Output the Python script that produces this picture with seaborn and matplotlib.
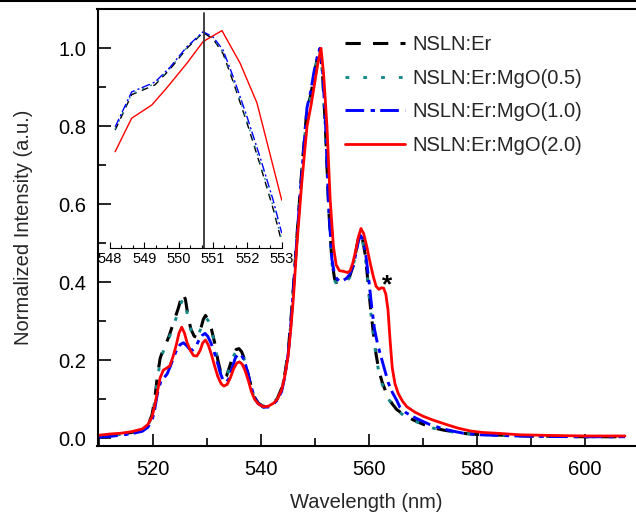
import numpy as np
import pandas as pd
import matplotlib
matplotlib.use("Agg")
import matplotlib.pyplot as plt
import seaborn as sns
from matplotlib.ticker import MultipleLocator, AutoMinorLocator
from matplotlib.lines import Line2D

# ---------------- data ----------------
labels = ["NSLN:Er", "NSLN:Er:MgO(0.5)", "NSLN:Er:MgO(1.0)", "NSLN:Er:MgO(2.0)"]

wl_er = [510, 512, 514, 516, 518, 519, 519.8, 520.3, 520.8, 521.3, 521.8, 522.3, 522.9, 523.5,
         524.1, 524.7, 525.2, 525.6, 526.0, 526.5, 527.0, 527.6, 528.2, 528.8, 529.3, 529.7,
         530.2, 530.8, 531.4, 532.0, 532.6, 533.1, 533.6, 534.2, 534.8, 535.4, 535.9, 536.4,
         537.0, 537.6, 538.2, 538.8, 539.5, 540.4, 541.3, 542.3, 543.0, 543.8, 544.4, 545.0,
         545.5, 546.0, 546.8, 547.6, 548.5, 549.2, 549.8, 550.4, 550.9, 551.4, 551.9, 552.5,
         553.1, 553.6, 554.0, 554.5, 555.2, 555.8, 556.4, 557.0, 557.5, 558.0, 558.4, 558.8,
         559.3, 559.8, 560.3, 560.8, 561.3, 561.8, 562.4, 563.3, 564.2, 565.1, 566.5, 568.2,
         570.0, 571.9, 573.8, 575.6, 578.0, 580.0, 585.0, 590.0, 600.0, 607.4]
int_er = [0.006, 0.008, 0.011, 0.015, 0.022, 0.032, 0.060, 0.100, 0.160, 0.205, 0.225, 0.240,
          0.260, 0.285, 0.310, 0.335, 0.360, 0.372, 0.355, 0.310, 0.280, 0.262, 0.258, 0.280,
          0.305, 0.315, 0.305, 0.280, 0.245, 0.200, 0.165, 0.153, 0.160, 0.185, 0.212, 0.228,
          0.230, 0.222, 0.200, 0.165, 0.130, 0.105, 0.090, 0.082, 0.082, 0.090, 0.102, 0.128,
          0.165, 0.220, 0.300, 0.390, 0.550, 0.700, 0.845, 0.880, 0.930, 0.975, 1.000, 0.930,
          0.800, 0.594, 0.457, 0.410, 0.400, 0.405, 0.410, 0.405, 0.415, 0.440, 0.475, 0.510,
          0.526, 0.510, 0.470, 0.400, 0.330, 0.270, 0.215, 0.175, 0.145, 0.112, 0.090, 0.074,
          0.060, 0.047, 0.036, 0.027, 0.021, 0.017, 0.012, 0.010, 0.008, 0.006, 0.004, 0.004]

wl_mg05 = list(wl_er)
int_mg05 = [0.005, 0.007, 0.010, 0.014, 0.021, 0.031, 0.057, 0.095, 0.150, 0.198, 0.220, 0.235,
            0.255, 0.278, 0.302, 0.325, 0.348, 0.358, 0.345, 0.305, 0.278, 0.262, 0.260, 0.280,
            0.302, 0.310, 0.302, 0.278, 0.243, 0.198, 0.163, 0.151, 0.158, 0.182, 0.208, 0.224,
            0.227, 0.220, 0.198, 0.163, 0.128, 0.103, 0.088, 0.080, 0.080, 0.088, 0.100, 0.125,
            0.162, 0.216, 0.295, 0.385, 0.545, 0.695, 0.840, 0.875, 0.928, 0.972, 0.998, 0.928,
            0.795, 0.590, 0.450, 0.405, 0.395, 0.398, 0.405, 0.402, 0.412, 0.438, 0.472, 0.506,
            0.520, 0.505, 0.465, 0.395, 0.325, 0.265, 0.210, 0.170, 0.140, 0.108, 0.087, 0.072,
            0.058, 0.046, 0.035, 0.026, 0.020, 0.016, 0.012, 0.010, 0.008, 0.006, 0.004, 0.004]

wl_mg10 = [510, 512, 514, 516, 518, 519, 519.8, 520.3, 520.8, 521.4, 522.0, 522.6, 523.2, 523.8,
           524.4, 525.0, 525.6, 526.2, 526.8, 527.3, 527.9, 528.5, 529.1, 529.6, 530.1, 530.7,
           531.3, 531.9, 532.5, 533.0, 533.5, 534.0, 534.6, 535.2, 535.8, 536.3, 536.9, 537.5,
           538.1, 538.7, 539.4, 540.4, 541.3, 542.3, 543.0, 543.8, 544.4, 545.0, 545.5, 546.0,
           546.8, 547.6, 548.5, 549.2, 549.8, 550.4, 550.9, 551.4, 551.9, 552.5, 553.1, 553.6,
           554.0, 554.5, 555.2, 555.8, 556.4, 557.0, 557.5, 558.0, 558.4, 558.9, 559.4, 560.0,
           560.5, 561.0, 561.6, 562.2, 562.8, 563.6, 564.3, 565.1, 565.7, 566.8, 568.2, 569.7,
           571.3, 572.9, 574.4, 576.0, 577.5, 580.6, 585.0, 590.0, 600.0, 607.4]
int_mg10 = [0.003, 0.005, 0.008, 0.012, 0.018, 0.028, 0.045, 0.075, 0.115, 0.145, 0.155, 0.165,
            0.185, 0.208, 0.228, 0.240, 0.245, 0.238, 0.228, 0.226, 0.235, 0.252, 0.264, 0.269,
            0.262, 0.245, 0.222, 0.195, 0.165, 0.148, 0.143, 0.152, 0.178, 0.205, 0.218, 0.214,
            0.200, 0.170, 0.135, 0.108, 0.090, 0.080, 0.080, 0.088, 0.098, 0.120, 0.158, 0.215,
            0.290, 0.385, 0.545, 0.690, 0.848, 0.890, 0.940, 0.978, 1.000, 0.940, 0.820, 0.600,
            0.460, 0.420, 0.410, 0.403, 0.405, 0.410, 0.420, 0.440, 0.470, 0.505, 0.520, 0.510,
            0.470, 0.400, 0.335, 0.280, 0.240, 0.210, 0.180, 0.141, 0.118, 0.098, 0.080, 0.066,
            0.055, 0.045, 0.035, 0.028, 0.022, 0.017, 0.013, 0.009, 0.007, 0.005, 0.004, 0.004]

wl_mg20 = [510, 512, 514, 516, 518, 519, 519.8, 520.3, 520.8, 521.3, 521.9, 522.5, 523.1, 523.7,
           524.3, 524.8, 525.3, 525.8, 526.3, 526.9, 527.5, 528.1, 528.7, 529.2, 529.7, 530.2,
           530.8, 531.4, 532.0, 532.6, 533.1, 533.7, 534.3, 534.9, 535.5, 536.0, 536.5, 537.0,
           537.6, 538.2, 538.8, 539.5, 540.4, 541.3, 542.3, 543.0, 543.8, 544.4, 545.0, 545.5,
           546.0, 546.6, 547.5, 548.5, 549.2, 549.8, 550.5, 551.1, 551.6, 552.2, 552.8, 553.4,
           553.9, 554.5, 555.3, 556.0, 556.5, 557.0, 557.5, 558.0, 558.5, 559.0, 559.6, 560.2,
           560.8, 561.3, 561.8, 562.3, 562.7, 563.1, 563.5, 563.9, 564.3, 564.8, 565.4, 566.2,
           567.0, 568.5, 570.1, 572.0, 574.4, 576.5, 578.7, 581.0, 583.6, 588.0, 595.0, 600.0,
           607.4]
int_mg20 = [0.008, 0.011, 0.013, 0.017, 0.024, 0.035, 0.055, 0.085, 0.120, 0.155, 0.175, 0.180,
            0.186, 0.210, 0.240, 0.270, 0.285, 0.270, 0.245, 0.225, 0.212, 0.211, 0.225, 0.245,
            0.252, 0.240, 0.215, 0.185, 0.158, 0.140, 0.134, 0.138, 0.155, 0.178, 0.193, 0.196,
            0.190, 0.175, 0.150, 0.120, 0.100, 0.088, 0.081, 0.082, 0.090, 0.100, 0.124, 0.160,
            0.210, 0.280, 0.363, 0.491, 0.650, 0.800, 0.850, 0.900, 0.960, 1.000, 0.930, 0.800,
            0.611, 0.491, 0.445, 0.430, 0.428, 0.425, 0.430, 0.450, 0.480, 0.515, 0.538, 0.525,
            0.490, 0.450, 0.414, 0.390, 0.382, 0.386, 0.385, 0.370, 0.330, 0.250, 0.180, 0.140,
            0.115, 0.095, 0.081, 0.067, 0.056, 0.046, 0.035, 0.026, 0.019, 0.015, 0.013, 0.009,
            0.007, 0.006, 0.006]

# inset (zoom of the main peak)
in_wl = [548.15, 548.63, 548.96, 549.31, 549.75, 550.24, 550.71, 551.00, 551.29, 551.59,
         551.99, 552.37, 552.75, 553.00]
in_er = [0.750, 0.840, 0.852, 0.865, 0.905, 0.958, 0.998, 0.982, 0.945, 0.872, 0.768, 0.662,
         0.550, 0.465]
in_mg05 = [0.752, 0.842, 0.855, 0.868, 0.907, 0.960, 0.999, 0.984, 0.948, 0.876, 0.772, 0.667,
           0.556, 0.470]
in_mg10 = [0.758, 0.847, 0.859, 0.872, 0.910, 0.962, 1.000, 0.987, 0.954, 0.885, 0.784, 0.681,
           0.572, 0.488]
in_wl_mg20 = [548.15, 548.63, 549.22, 549.65, 550.24, 550.71, 551.26, 551.79, 552.28, 553.00]
in_mg20 = [0.695, 0.780, 0.814, 0.857, 0.920, 0.975, 1.003, 0.920, 0.819, 0.572]
inset_marker_wl = 550.74

xticks_main = [520, 540, 560, 580, 600]
yticks_main = [0.0, 0.2, 0.4, 0.6, 0.8, 1.0]
xticks_inset = [548, 549, 550, 551, 552, 553]
star_pos = (563.4, 0.374)

# ---------------- style ----------------
sns.set_style("ticks")
plt.rcParams["font.family"] = ["Liberation Sans", "DejaVu Sans"]

colors = ["#000000", "#15898a", "#0000ff", "#ff0000"]
styles = [(0, (5.0, 4.0)), (0, (1.3, 4.8)), (0, (6.4, 2.2, 1.5, 1.8)), "-"]
widths = [2.2, 2.1, 2.1, 2.0]

fig = plt.figure(figsize=(6.36, 5.22), dpi=100)
ax = fig.add_axes([97.5 / 636, (522 - 446) / 522, (636 - 97.5) / 636, (446 - 9) / 522])

main_sets = [(wl_er, int_er), (wl_mg05, int_mg05), (wl_mg10, int_mg10), (wl_mg20, int_mg20)]
for (x, y), lab, c, ls, lw in zip(main_sets, labels, colors, styles, widths):
    df = pd.DataFrame({"Wavelength": x, "Intensity": y})
    sns.lineplot(data=df, x="Wavelength", y="Intensity", ax=ax, color=c, linestyle=ls,
                 linewidth=lw, label=lab, estimator=None, sort=False)

ax.set_xlim(509.7, 609.44)
ax.set_ylim(-0.0197, 1.1008)
ax.set_xticks(xticks_main)
ax.set_yticks(yticks_main)
ax.xaxis.set_minor_locator(MultipleLocator(10))
ax.yaxis.set_minor_locator(MultipleLocator(0.1))
ax.set_yticklabels([f"{v:.1f}" for v in yticks_main])
ax.tick_params(which="both", direction="in", width=1.2, labelsize=14.5, colors="black",
               top=False, right=False)
ax.tick_params(which="major", length=9)
ax.tick_params(which="minor", length=5.5)
ax.tick_params(axis="x", pad=10)
ax.tick_params(axis="y", pad=8)
for s in ["left", "bottom", "top"]:
    ax.spines[s].set_linewidth(1.5)
    ax.spines[s].set_color("black")
ax.spines["right"].set_visible(False)
ax.set_xlabel("Wavelength (nm)", fontsize=14.5, labelpad=10)
ax.set_ylabel("Normalized Intensity (a.u.)", fontsize=14.5, labelpad=18)

ax.legend(loc="upper left", bbox_to_anchor=((345 - 97.5) / 538.5, 0.940), frameon=False,
          fontsize=14.5, handlelength=3.0, handletextpad=0.33, labelspacing=0.72,
          borderpad=0, borderaxespad=0)

ax.text(star_pos[0], star_pos[1], "*", fontsize=19, fontweight="bold", ha="center",
        va="baseline", color="black")

# ---------------- inset ----------------
axi = fig.add_axes([110 / 636, (522 - 248) / 522, (281.7 - 110) / 636, (248 - 9) / 522])
axi.patch.set_alpha(0)
in_sets = [(in_wl, in_er), (in_wl, in_mg05), (in_wl, in_mg10), (in_wl_mg20, in_mg20)]
for (x, y), c, ls in zip(in_sets, colors, styles):
    sns.lineplot(x=x, y=y, ax=axi, color=c, linestyle=ls, linewidth=1.0,
                 estimator=None, sort=False, legend=False)
axi.axvline(inset_marker_wl, ymin=0, ymax=0.985, color="#333333", lw=1.3)
axi.set_xlim(548, 553)
axi.set_ylim(0.45, 1.058)
axi.set_xticks(xticks_inset)
axi.xaxis.set_minor_locator(AutoMinorLocator(3))
axi.set_yticks([])
axi.tick_params(which="both", direction="in", width=0.8, labelsize=10.5, pad=3, colors="black")
axi.tick_params(which="major", length=4)
axi.tick_params(which="minor", length=2.5)
for s in ["left", "right", "top"]:
    axi.spines[s].set_visible(False)
axi.spines["bottom"].set_linewidth(0.8)
axi.spines["bottom"].set_color("black")
axi.set_xlabel("")
axi.set_ylabel("")

fig.add_artist(Line2D([0, 1], [1 - 1.0 / 522, 1 - 1.0 / 522], transform=fig.transFigure,
                      color="black", lw=1.5))

fig.savefig("out.png", dpi=100)
